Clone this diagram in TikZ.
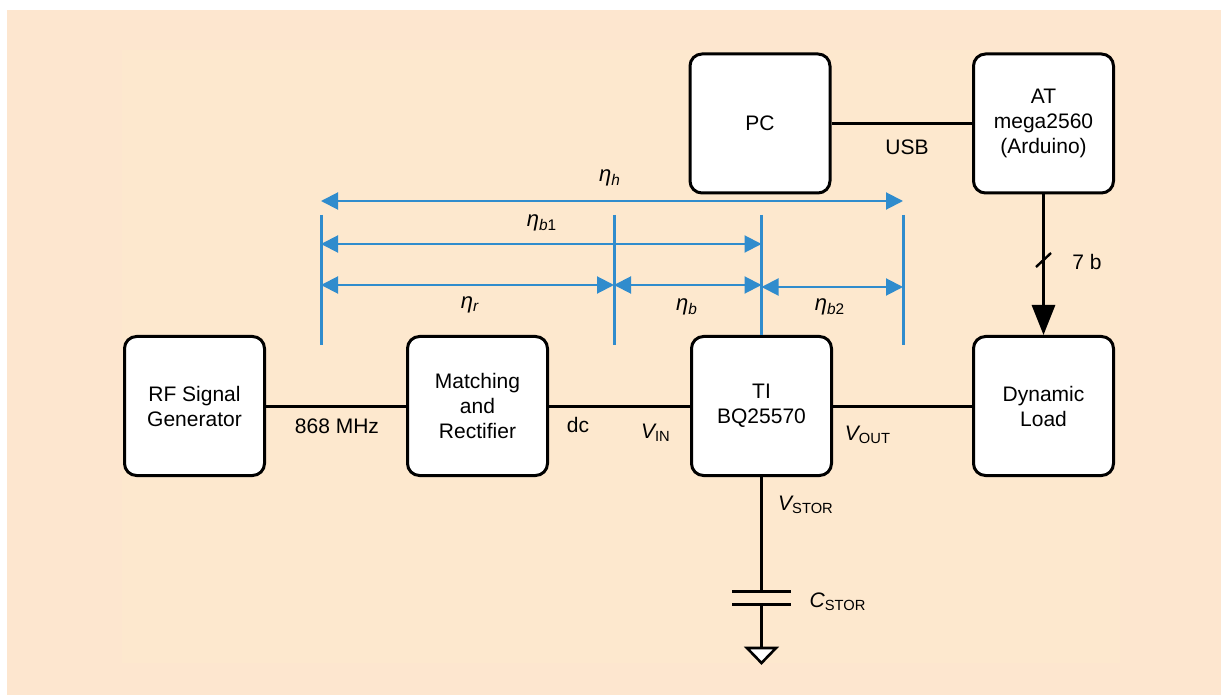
\documentclass[tikz,border=0pt]{standalone}
\usepackage{fontspec}
\setmainfont{Liberation Sans}
\usetikzlibrary{arrows.meta}

\definecolor{peach}{RGB}{253,230,207}
\definecolor{peachin}{RGB}{253,232,206}
\definecolor{dimblue}{RGB}{48,140,205}

\begin{document}
\begin{tikzpicture}[x=0.5pt, y=-0.5pt,
    every node/.style={font=\fontsize{10.5}{12.5}\selectfont},
    block/.style={draw, line width=1.5pt, rounded corners=6pt, fill=white,
        minimum width=70pt, minimum height=69.5pt, align=center, inner sep=0pt},
    wire/.style={line width=1.5pt},
    dimline/.style={dimblue, line width=1.5pt},
    dimarrow/.style={dimblue, line width=1pt,
        {Triangle[length=8.5pt,width=8.5pt]}-{Triangle[length=8.5pt,width=8.5pt]}},
    eta/.style={font=\fontsize{11}{13}\selectfont}]

    % background
    \useasboundingbox (0,0) rectangle (1221,695);
    \fill[white] (0,0) rectangle (1221,695);
    \fill[peach] (7,10) rectangle (1221,695);
    \fill[peachin] (122,50) rectangle (1120,663);

    % blocks
    \node[block] (RF) at (194.5,406) {RF Signal\\Generator};
    \node[block] (MR) at (477.5,406) {Matching\\and\\Rectifier};
    \node[block] (TI) at (761.5,406) {TI\\BQ25570};
    \node[block] (DL) at (1043.5,406) {Dynamic\\Load};
    \node[block] (PC) at (760,123.5) {PC};
    \node[block] (AT) at (1043.5,123.5) {AT\\mega2560\\(Arduino)};

    % wires
    \draw[wire] (RF) -- (MR);
    \draw[wire] (MR) -- (TI);
    \draw[wire] (TI) -- (DL);
    \draw[wire] (PC) -- (AT);
    \draw[wire, -{Triangle[length=15pt,width=11.5pt]}] (AT) -- (DL);
    \coordinate (s1) at (1036,267);
    \coordinate (s2) at (1051,253);
    \draw[line width=1.2pt] (s1) -- (s2);

    \node (f) at (337,426) {868 MHz};
    \node (dc) at (578,425) {dc};
    \node (vin) at (656,433) {{\itshape V}\textsubscript{IN}};
    \node (vout) at (868,435) {{\itshape V}\textsubscript{OUT}};
    \node (usb) at (907,147) {USB};
    \node (bits) at (1087,262) {7 b};

    % storage capacitor
    \coordinate (c1) at (761.5,591);
    \coordinate (c2) at (761.5,604);
    \coordinate (g) at (761.5,648);
    \draw[wire] (TI) -- (c1);
    \draw[wire] (c2) -- (g);
    \draw[wire] (732,591) -- (791,591);
    \draw[wire] (732,604) -- (791,604);
    \draw[line width=1.3pt, fill=white] (747,648) -- (776,648) -- (761.5,663) -- cycle;
    \node (vstor) at (806,505) {{\itshape V}\textsubscript{STOR}};
    \node (cstor) at (838,602) {{\itshape C}\textsubscript{STOR}};

    % efficiency markers
    \foreach \n/\x in {1/321,2/614,4/903} {
        \coordinate (t\n) at (\x,215);
        \coordinate (b\n) at (\x,345);
        \draw[dimline] (t\n) -- (b\n);
    }
    \coordinate (t3) at (761.5,215);
    \draw[dimline] (t3) -- (TI);

    \coordinate (hL) at (321,201);  \coordinate (hR) at (903,201);
    \coordinate (b1L) at (321,244); \coordinate (b1R) at (761.5,244);
    \coordinate (rL) at (321,285);  \coordinate (rR) at (614,285);
    \coordinate (bL) at (614,285);  \coordinate (bR) at (761.5,285);
    \coordinate (b2L) at (761.5,287); \coordinate (b2R) at (903,287);
    \draw[dimarrow] (hL) -- (hR);
    \draw[dimarrow] (b1L) -- (b1R);
    \draw[dimarrow] (rL) -- (rR);
    \draw[dimarrow] (bL) -- (bR);
    \draw[dimarrow] (b2L) -- (b2R);

    \node[eta] (eh) at (610,178) {{\itshape η\textsubscript{h}}};
    \node[eta] (eb1) at (542,223) {{\itshape η}\textsubscript{{\itshape b}1}};
    \node[eta] (er) at (470,305) {{\itshape η\textsubscript{r}}};
    \node[eta] (eb) at (687,307) {{\itshape η\textsubscript{b}}};
    \node[eta] (eb2) at (830,307) {{\itshape η}\textsubscript{{\itshape b}2}};
\end{tikzpicture}
\end{document}
